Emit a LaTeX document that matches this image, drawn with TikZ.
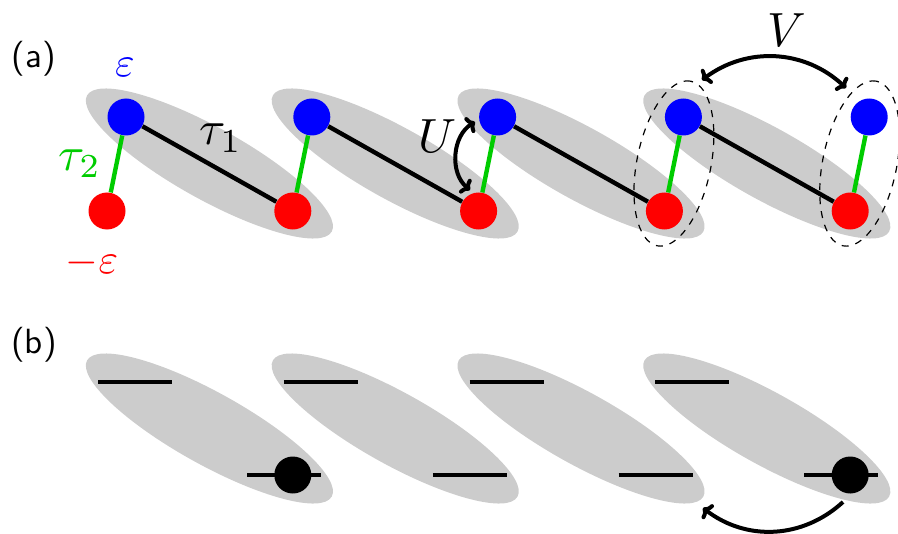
\documentclass[tikz,border=0pt]{standalone}
\usetikzlibrary{shapes.geometric,arrows.meta}
\definecolor{hopgreen}{RGB}{0,204,0}
\begin{document}
\begin{tikzpicture}[x=0.5pt,y=-0.5pt, >={To[length=4pt,width=9pt]},
cell/.style={ellipse, fill=black!20, minimum width=140pt, minimum height=36pt, inner sep=0pt, rotate=-29.1},
pair/.style={ellipse, draw, dash pattern=on 3.5pt off 3.5pt, line width=0.6pt, minimum width=84pt, minimum height=37pt, inner sep=0pt, rotate=78.5},
site/.style={circle, inner sep=0pt, minimum size=18.5pt},
intra/.style={line width=2.2pt, hopgreen},
inter/.style={line width=2.2pt},
level/.style={line width=2.3pt},
hop/.style={line width=2pt},
lbl/.style={scale=2.4, anchor=base},
elbl/.style={scale=2.1, anchor=base},
panel/.style={scale=1.75, font=\sffamily, anchor=base}]

\useasboundingbox (0,0) rectangle (898,534);

\foreach \i in {0,...,3} {
\node[cell] (ca\i) at (209.4+185.8*\i,163.5) {};
\node[cell] (cb\i) at (209.4+185.8*\i,428.5) {};
}
\node[pair] (p4) at (673.9,163.5) {};
\node[pair] (p5) at (859.7,163.5) {};

\foreach \i in {1,...,5} {
\node[site, fill=blue] (b\i) at (126+185.8*\i-185.8,117) {};
\node[site, fill=red] (r\i) at (107+185.8*\i-185.8,211) {};
\draw[intra] (b\i) -- (r\i);
}
\foreach \i/\j in {1/2,2/3,3/4,4/5} \draw[inter] (b\i) -- (r\j);

\foreach \i in {0,...,3} {
\draw[level] (98+185.8*\i,382) -- ++(74,0);
\draw[level] (247+185.8*\i,475) -- ++(74,0);
}
\node[site, fill=black] (e1) at (292.8,475) {};
\node[site, fill=black] (e4) at (850.2,475) {};

\node[panel] (pa) at (34,68) {(a)};
\node[panel] (pb) at (34,353) {(b)};
\node[elbl, blue] (eps) at (125,77) {$\varepsilon$};
\node[elbl, red] (meps) at (92,273) {$-\varepsilon$};
\node[lbl] (t1) at (221,145) {$\tau_1$};
\node[lbl, hopgreen] (t2) at (80,170) {$\tau_2$};
\node[lbl] (ulbl) at (437,153) {$U$};
\node[lbl] (vlbl) at (787,47) {$V$};

\coordinate (ub) at (470,190);
\coordinate (ut) at (475,122);
\coordinate (vl) at (702,80);
\coordinate (vr) at (846,88);
\coordinate (ha) at (843,502);
\coordinate (hb) at (703,508);
\draw[hop, <->] (ub) to[bend left=55] (ut);
\draw[hop, <->] (vl) to[bend left=40] (vr);
\draw[hop, ->] (ha) to[bend left=40] (hb);
\end{tikzpicture}
\end{document}
